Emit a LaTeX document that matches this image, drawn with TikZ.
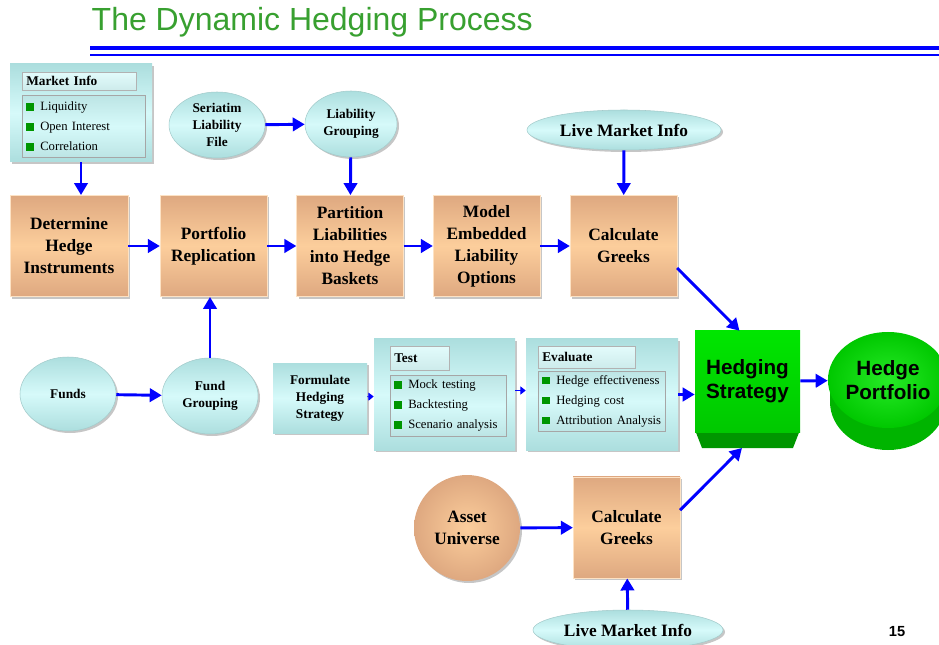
\documentclass[tikz,border=0pt]{standalone}
\usepackage{fontspec}
\setmainfont{Liberation Serif}
\setsansfont{Liberation Sans}
\usetikzlibrary{arrows.meta, shapes.geometric, shadows, positioning}

\definecolor{tanA}{RGB}{222,168,128}
\definecolor{tanB}{RGB}{252,206,156}
\definecolor{aquaA}{RGB}{172,222,222}
\definecolor{aquaB}{RGB}{214,250,250}
\definecolor{titlegreen}{RGB}{56,160,48}
\definecolor{hsgreen}{RGB}{0,230,0}
\definecolor{hsmid}{RGB}{0,200,0}
\definecolor{hsdark}{RGB}{0,150,0}
\definecolor{bulgreen}{RGB}{0,150,0}
\definecolor{arrowblue}{RGB}{0,0,255}

\newcommand{\sqb}[1]{\mbox{\textcolor{bulgreen}{\rule{5.5pt}{5.5pt}}\hspace{5pt}#1}}

\begin{document}
\begin{tikzpicture}[x=0.75pt, y=-0.75pt,
    shadowed/.style = {drop shadow={shadow xshift=1.5pt, shadow yshift=-1.5pt, opacity=0.45, fill=gray}},
    taskbox/.style = {rectangle, shadowed, top color=tanA, bottom color=tanA, middle color=tanB,
      draw=tanB!60!white, inner sep=0pt, minimum width=80pt, minimum height=76pt,
      align=center, font=\bfseries\fontsize{13}{16.5}\selectfont},
    source/.style = {ellipse, shadowed, top color=aquaA, bottom color=aquaA, middle color=aquaB,
      draw=aquaA!80!gray, inner sep=0pt, align=center, font=\bfseries\fontsize{10}{12.8}\selectfont},
    panel/.style = {rectangle, shadowed, top color=aquaA, bottom color=aquaA, middle color=aquaB,
      inner sep=0pt},
    header/.style = {rectangle, anchor=north west, top color=aquaB!70!white, bottom color=aquaA!60!white,
      draw=gray!60, inner sep=3pt, text depth=0pt, align=left,
      font=\bfseries\fontsize{10}{12}\selectfont},
    itemlist/.style = {rectangle, anchor=north west, top color=aquaA!80!white, bottom color=aquaA!80!white,
      middle color=aquaB, draw=gray!70, inner xsep=3pt, inner ysep=2pt, align=left,
      font=\fontsize{9.5}{15}\selectfont},
    flow/.style = {arrowblue, line width=2.2pt, -{Triangle[length=9pt, width=10pt]}},
    tiny/.style = {arrowblue, line width=0.8pt, -{Triangle[length=4pt, width=6pt]}}]

  \useasboundingbox (0,0) rectangle (939,645);

  % title
  \node (title) [anchor=west, text=titlegreen, font=\sffamily\fontsize{24}{27}\selectfont]
    at (87,22) {The Dynamic Hedging Process};
  \draw [arrowblue, line width=3pt] (90,48) -- (939,48);
  \draw [arrowblue, line width=1pt] (90,55) -- (939,55);
  \node (pageno) [font=\sffamily\bfseries\fontsize{11}{13}\selectfont] at (897,632) {15};

  % market info
  \node (mkt) [panel, minimum width=106.5pt, minimum height=73.5pt] at (81,113) {};
  \node (mkthead) [header, text width=79.5pt, minimum height=13.5pt, inner ysep=1pt] at (22,72) {Market Info};
  \node (mktlist) [itemlist, text width=86pt, minimum height=46.5pt] at (22,95)
    {\sqb{Liquidity}\\ \sqb{Open Interest}\\ \sqb{Correlation}};

  % top row
  \node (det) [taskbox, minimum width=88.5pt] at (69,246) {Determine\\ Hedge\\ Instruments};
  \node (port) [taskbox] at (213.5,246) {Portfolio\\ Replication};
  \node (part) [taskbox] at (350,246) {Partition\\ Liabilities\\ into Hedge\\ Baskets};
  \node (model) [taskbox] at (486.5,246) {Model\\ Embedded\\ Liability\\ Options};
  \node (calcA) [taskbox] at (623.5,246) {Calculate\\ Greeks};

  \node (seri) [source, minimum width=72pt, minimum height=49.5pt] at (217,125) {Seriatim\\ Liability\\ File};
  \node (lgrp) [source, minimum width=69pt, minimum height=49.5pt] at (351,124) {Liability\\ Grouping};
  \node (liveA) [source, minimum width=145.5pt, minimum height=30pt, font=\bfseries\fontsize{13}{15}\selectfont]
    at (624,130) {Live Market Info};

  % middle row
  \node (funds) [source, minimum width=72pt, minimum height=55.5pt] at (68,394) {Funds};
  \node (fgrp) [source, minimum width=72pt, minimum height=57pt] at (210,396) {Fund\\ Grouping};
  \node (form) [panel, minimum width=70.5pt, minimum height=52.5pt, align=center,
    font=\bfseries\fontsize{10}{12.8}\selectfont] at (320,398) {Formulate\\ Hedging\\ Strategy};

  \node (test) [panel, minimum width=105.75pt, minimum height=83.25pt] at (444.5,394.5) {};
  \node (testhead) [header, text width=38pt, minimum height=18pt] at (390,346) {Test};
  \node (testlist) [itemlist, text width=81pt, minimum height=45.75pt] at (390,375)
    {\sqb{Mock testing}\\ \sqb{Backtesting}\\ \sqb{Scenario analysis}};

  \node (eval) [panel, minimum width=114pt, minimum height=83.25pt] at (602,394.5) {};
  \node (evalhead) [header, text width=66.5pt, minimum height=16.5pt] at (538,346) {Evaluate};
  \node (evallist) [itemlist, text width=89pt, minimum height=45pt] at (538,371)
    {\sqb{Hedge effectiveness}\\ \sqb{Hedging cost}\\ \sqb{Attribution Analysis}};

  % hedging strategy block
  \fill [hsdark] (695,430) -- (800,430) -- (793,448) -- (702,448) -- cycle;
  \coordinate (hsfoot) at (742,448);
  \node (hs) [rectangle, top color=hsgreen, bottom color=hsmid, minimum width=78.75pt, minimum height=75.75pt,
    inner sep=0pt, align=center, font=\sffamily\bfseries\fontsize{15.5}{18}\selectfont]
    at (747.5,381.5) {Hedging\\ Strategy};

  % hedge portfolio
  \fill [hsmid!90!black] (888,402) ellipse [x radius=58, y radius=48];
  \fill [hsmid!90!black] (830,380) rectangle (946,402);
  \node (hp) [ellipse, minimum width=87pt, minimum height=72pt, inner sep=0pt,
    inner color=hsgreen!85!white, outer color=hsmid, align=center,
    font=\sffamily\bfseries\fontsize{15.5}{18}\selectfont] at (888,380) {Hedge\\ Portfolio};

  % bottom row
  \node (asset) [circle, shadowed, inner color=tanB, outer color=tanA, minimum size=79.5pt, inner sep=0pt,
    align=center, font=\bfseries\fontsize{13}{16.5}\selectfont] at (467,528) {Asset\\ Universe};
  \node (calcB) [taskbox] at (626.5,527.5) {Calculate\\ Greeks};
  \node (liveB) [source, minimum width=142.5pt, minimum height=30pt, font=\bfseries\fontsize{13}{15}\selectfont]
    at (628,630) {Live Market Info};

  % connectors
  \path [flow]
    (mkt.south) edge (mkt.south |- det.north)
    (det) edge (port)
    (port) edge (part)
    (part) edge (model)
    (model) edge (calcA)
    (seri) edge (lgrp)
    (lgrp) edge (part)
    (liveA) edge (calcA)
    (funds) edge (fgrp)
    (fgrp.north) edge (fgrp.north |- port.south)
    (eval.east) edge (eval.east -| hs.west)
    (hs) edge (hp)
    ([yshift=-16.5pt]calcA.east) edge ([xshift=-6pt]hs.north)
    ([yshift=13pt]calcB.east) edge (hsfoot)
    (asset) edge (calcB)
    (liveB) edge (calcB);
  \path [tiny]
    (form) edge (test)
    ([yshift=3pt]test.east) edge ([yshift=3pt]test.east -| eval.west);
\end{tikzpicture}
\end{document}
